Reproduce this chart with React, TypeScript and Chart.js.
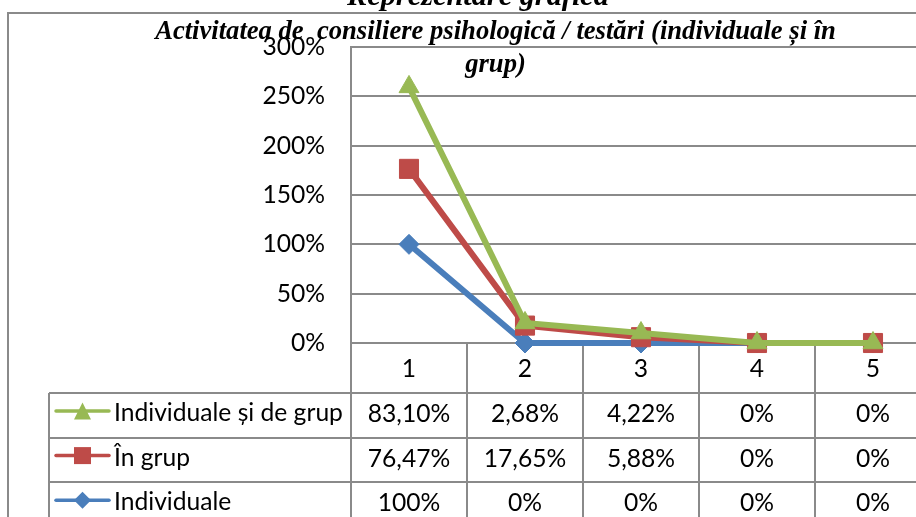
import React, { useEffect, useRef } from 'react';
import { Chart, registerables } from 'chart.js';

Chart.register(...registerables);

const categories = ['1', '2', '3', '4', '5'];
const seriesNames = ['Individuale', 'În grup', 'Individuale și de grup'];
const individuale = [1, 0, 0, 0, 0];
const inGrup = [0.7647, 0.1765, 0.0588, 0, 0];
const individualeSiGrup = [0.831, 0.0268, 0.0422, 0, 0];
const yTicks = [0, 0.5, 1, 1.5, 2, 2.5, 3];
const titleLines = ['Activitatea de  consiliere psihologică / testări (individuale și în', 'grup)'];
const headerText = 'Reprezentare grafică';

const BLUE = '#4A7EBB';
const RED = '#BE4B48';
const GREEN = '#98B954';
const GRID = '#8A8A8A';
const W = 960;
const H = 540;
const SANS = 'Lato';
const SERIF = '"Liberation Serif"';

function fitSize(font: string, text: string, target: number) {
  const c = document.createElement('canvas').getContext('2d')!;
  c.font = font.replace('SIZE', '100px');
  return (100 * target) / c.measureText(text).width;
}

function fmt(v: number) {
  const p = v * 100;
  if (Math.abs(p - Math.round(p)) < 1e-9) return `${Math.round(p)}%`;
  return `${p.toFixed(2).replace('.', ',')}%`;
}

function drawMarker(ctx: CanvasRenderingContext2D, style: string, x: number, y: number, s: number) {
  ctx.beginPath();
  if (style === 'rect') {
    ctx.rect(x - s / 2, y - s / 2, s, s);
  } else if (style === 'rectRot') {
    ctx.moveTo(x - s / 2, y);
    ctx.lineTo(x, y - s / 2);
    ctx.lineTo(x + s / 2, y);
    ctx.lineTo(x, y + s / 2);
    ctx.closePath();
  } else {
    ctx.moveTo(x, y - s / 2);
    ctx.lineTo(x + s / 2, y + s / 2);
    ctx.lineTo(x - s / 2, y + s / 2);
    ctx.closePath();
  }
  ctx.fill();
}

export default function App() {
  const ref = useRef<HTMLCanvasElement>(null);

  useEffect(() => {
    const canvas = ref.current!;
    const sansSize = fitSize(`normal SIZE ${SANS}`, 'Individuale și de grup', 229);
    const titleSize = fitSize(`italic bold SIZE ${SERIF}`, titleLines[0], 681);
    const headerSize = fitSize(`italic bold SIZE ${SERIF}`, headerText, 262);

    const rowsData = [
      { name: seriesNames[2], data: individualeSiGrup, color: GREEN, style: 'triangle' },
      { name: seriesNames[1], data: inGrup, color: RED, style: 'rect' },
      { name: seriesNames[0], data: individuale, color: BLUE, style: 'rectRot' },
    ];

    let manual = false;
    const orderPlugin = {
      id: 'drawOrder',
      beforeDatasetDraw() {
        return manual;
      },
      afterDatasetsDraw(chart: any) {
        manual = true;
        for (let i = 0; i < chart.data.datasets.length; i++) {
          const meta = chart.getDatasetMeta(i);
          if (meta.visible) meta.controller.draw();
        }
        manual = false;
      },
    };

    const tablePlugin = {
      id: 'dataTable',
      beforeDatasetsDraw(chart: any) {
        const { ctx, chartArea, scales } = chart;
        const xs = scales.x;
        ctx.save();
        ctx.strokeStyle = GRID;
        ctx.lineWidth = 2;
        ctx.strokeRect(8, 13, W, H);
        const half = (xs.getPixelForValue(1) - xs.getPixelForValue(0)) / 2;
        ctx.beginPath();
        for (let i = 0; i <= categories.length; i++) {
          const px = Math.round(xs.getPixelForValue(i) - half);
          ctx.moveTo(px, chartArea.bottom);
          ctx.lineTo(px, H);
        }
        const top = chartArea.bottom + 50;
        const rowH = 44.6;
        for (let r = 0; r < rowsData.length; r++) {
          const y = Math.round(top + r * rowH);
          ctx.moveTo(49, y);
          ctx.lineTo(W, y);
        }
        ctx.moveTo(49, top);
        ctx.lineTo(49, H);
        ctx.stroke();

        ctx.font = `normal ${sansSize}px ${SANS}`;
        ctx.textBaseline = 'middle';
        rowsData.forEach((row, r) => {
          const rt = top + r * rowH;
          const ly = rt + 18;
          ctx.strokeStyle = row.color;
          ctx.lineWidth = 3.5;
          ctx.lineCap = 'round';
          ctx.beginPath();
          ctx.moveTo(56, ly);
          ctx.lineTo(109, ly);
          ctx.stroke();
          ctx.fillStyle = row.color;
          drawMarker(ctx, row.style, 82.5, ly, 17);
          ctx.fillStyle = '#000';
          ctx.textAlign = 'left';
          ctx.fillText(row.name, 114, rt + 20);
          ctx.textAlign = 'center';
          row.data.forEach((v, i) => {
            ctx.fillText(fmt(v), xs.getPixelForValue(i), rt + 21);
          });
        });
        ctx.restore();
      },
      afterDraw(chart: any) {
        const { ctx } = chart;
        ctx.save();
        ctx.fillStyle = '#000';
        ctx.textAlign = 'center';
        ctx.textBaseline = 'alphabetic';
        ctx.font = `italic bold ${headerSize}px ${SERIF}`;
        ctx.fillText(headerText, 478, 5);
        ctx.font = `italic bold ${titleSize}px ${SERIF}`;
        ctx.fillText(titleLines[0], 495.5, 39);
        ctx.fillText(titleLines[1], 495.5, 72);
        ctx.restore();
      },
    };

    const common = { borderWidth: 6, pointBorderWidth: 1, clip: false as any, tension: 0 };

    const chart = new Chart(canvas, {
      type: 'line',
      data: {
        labels: categories,
        datasets: [
          {
            ...common,
            label: seriesNames[0],
            data: individuale,
            borderColor: BLUE,
            backgroundColor: BLUE,
            pointBorderColor: BLUE,
            pointStyle: 'rectRot',
            pointRadius: 10,
          },
          {
            ...common,
            label: seriesNames[1],
            data: inGrup,
            borderColor: RED,
            backgroundColor: RED,
            pointBorderColor: RED,
            pointStyle: 'rect',
            pointRadius: 13.5,
          },
          {
            ...common,
            label: seriesNames[2],
            data: individualeSiGrup,
            borderColor: GREEN,
            backgroundColor: GREEN,
            pointBorderColor: GREEN,
            pointStyle: 'triangle',
            pointRadius: 11.5,
          },
        ],
      },
      options: {
        responsive: false,
        animation: false,
        devicePixelRatio: 1,
        layout: { padding: { left: 0, top: 47, right: W - 931, bottom: 0 } },
        plugins: {
          legend: { display: false },
          title: { display: false },
          tooltip: { enabled: false },
        },
        scales: {
          x: {
            offset: true,
            grid: { display: false },
            border: { display: false },
            ticks: {
              color: '#000',
              font: { family: SANS, size: sansSize },
              padding: 3,
              maxRotation: 0,
            },
            afterFit: (s: any) => {
              s.height = H - 343;
            },
          },
          y: {
            stacked: true,
            min: 0,
            max: 3,
            afterBuildTicks: (s: any) => {
              s.ticks = yTicks.map((v) => ({ value: v }));
            },
            grid: { color: GRID, lineWidth: 2, drawTicks: false },
            border: { display: true, color: GRID, width: 2 },
            ticks: {
              color: '#000',
              font: { family: SANS, size: sansSize },
              padding: 26,
              callback: (v: any) => `${Math.round(Number(v) * 100)}%`,
            },
            afterFit: (s: any) => {
              s.width = 351;
            },
          },
        },
      },
      plugins: [tablePlugin, orderPlugin],
    });
    return () => chart.destroy();
  }, []);

  return (
    <div
      style={{
        position: 'fixed',
        left: 0,
        top: 0,
        width: 916,
        height: 517,
        overflow: 'hidden',
        background: '#fff',
      }}
    >
      <canvas ref={ref} width={W} height={H} style={{ width: W, height: H, display: 'block' }} />
    </div>
  );
}
